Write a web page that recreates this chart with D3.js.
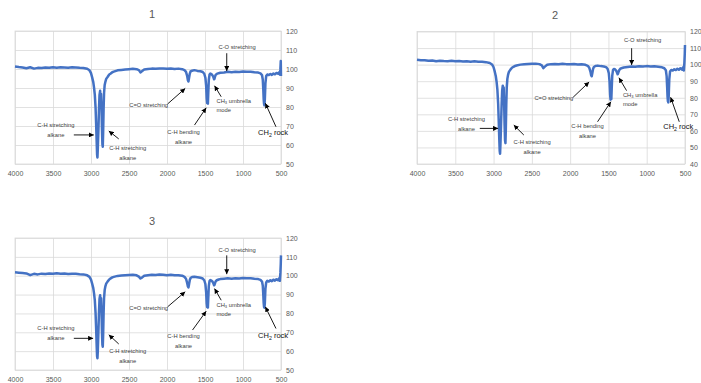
<!DOCTYPE html>
<html>
<head>
<meta charset="utf-8">
<script src="https://cdn.jsdelivr.net/npm/d3@7"></script>
<style>
  body { margin: 0; background: #ffffff; }
  svg { display: block; }
</style>
</head>
<body>
<svg id="chart" width="701" height="383"></svg>
<script>
// Wavenumber grid (cm-1), shared by the three spectra
const wavenumbers = [
  4000, 3950, 3900, 3850, 3800, 3750, 3700, 3650, 3600, 3550,
  3500, 3450, 3400, 3350, 3300, 3250, 3200, 3150, 3100, 3050,
  3020, 3000, 2985, 2970, 2960, 2950, 2940, 2932, 2925, 2920,
  2915, 2910, 2903, 2895, 2888, 2880, 2874, 2868, 2862, 2856,
  2850, 2845, 2840, 2834, 2828, 2820, 2810, 2800, 2780, 2760,
  2740, 2720, 2700, 2650, 2600, 2550, 2500, 2450, 2400, 2370,
  2350, 2330, 2300, 2250, 2200, 2150, 2100, 2050, 2000, 1950,
  1900, 1850, 1800, 1770, 1750, 1735, 1725, 1718, 1710, 1700,
  1690, 1670, 1640, 1600, 1560, 1530, 1510, 1495, 1485, 1478,
  1472, 1467, 1462, 1457, 1450, 1440, 1430, 1415, 1400, 1390,
  1380, 1375, 1370, 1360, 1345, 1320, 1300, 1250, 1200, 1150,
  1100, 1050, 1000, 950, 900, 850, 800, 770, 750, 740,
  733, 728, 723, 718, 713, 705, 695, 680, 660, 640,
  620, 600, 580, 560, 540, 525, 515, 508, 503, 500
];

// Transmittance (%) for sample 1
const sample1 = [
  101.3, 101.0, 100.8, 100.4, 100.9, 100.2, 100.6, 100.5, 100.8, 100.6,
  100.9, 100.7, 100.9, 100.8, 100.7, 100.9, 100.8, 100.6, 100.5, 100.1,
  99.3, 97.8, 95.6, 93.1, 90.2, 86.5, 79.8, 70.4, 61.2, 55.0,
  53.4, 58.6, 67.3, 78.9, 86.4, 88.5, 84.2, 86.9, 79.5, 68.7,
  60.4, 59.1, 66.8, 79.2, 87.5, 91.6, 93.4, 94.8, 95.9, 97.1,
  97.6, 98.3, 98.6, 99.3, 99.5, 99.7, 99.9, 100.1, 99.9, 99.4,
  98.2, 98.8, 99.7, 100.0, 100.2, 100.1, 100.3, 100.2, 100.1, 100.3,
  100.0, 100.2, 99.9, 99.4, 98.5, 96.4, 94.1, 93.4, 95.2, 97.6,
  98.7, 99.1, 99.4, 99.0, 98.8, 98.4, 97.5, 95.4, 91.2, 84.6,
  82.1, 86.8, 81.8, 87.3, 94.2, 97.1, 97.6, 97.3, 96.6, 95.8,
  94.6, 94.9, 95.7, 96.9, 97.4, 97.8, 98.0, 98.2, 98.5, 98.3,
  98.6, 98.4, 98.7, 98.5, 98.6, 98.3, 98.1, 97.7, 96.8, 94.5,
  89.2, 84.3, 81.6, 80.9, 83.7, 92.4, 96.3, 97.1, 96.8, 97.4,
  96.9, 97.6, 97.2, 97.9, 97.5, 98.3, 97.1, 99.8, 104.2, 96.3
];

// Transmittance (%) for sample 2
const sample2 = [
  102.9, 102.6, 102.7, 102.3, 102.5, 102.0, 102.4, 102.2, 102.1, 102.3,
  102.0, 102.2, 101.9, 102.1, 101.8, 102.0, 101.7, 101.8, 101.5, 101.0,
  100.1, 98.4, 95.9, 92.8, 89.4, 84.7, 76.2, 65.1, 54.3, 48.0,
  46.2, 52.1, 62.8, 75.4, 84.1, 87.3, 82.6, 86.2, 76.4, 63.5,
  54.2, 52.6, 60.9, 75.8, 86.1, 91.4, 94.0, 95.6, 97.0, 98.1,
  98.7, 99.2, 99.5, 100.0, 100.2, 100.4, 100.5, 100.6, 100.3, 99.6,
  97.9, 98.8, 99.9, 100.3, 100.4, 100.2, 100.5, 100.3, 100.2, 100.4,
  100.1, 100.2, 99.9, 99.3, 98.1, 95.8, 93.5, 93.0, 94.9, 97.5,
  98.6, 99.2, 99.4, 99.1, 98.9, 98.5, 97.4, 94.8, 89.5, 81.9,
  78.8, 84.2, 79.3, 85.6, 93.4, 96.8, 97.4, 97.2, 96.4, 95.4,
  94.2, 94.5, 95.3, 96.6, 97.5, 98.0, 98.3, 98.6, 98.9, 98.7,
  99.0, 98.8, 99.1, 98.9, 99.0, 98.7, 98.4, 97.8, 96.6, 93.1,
  86.4, 80.7, 77.8, 77.2, 80.6, 91.3, 95.9, 96.8, 96.4, 97.2,
  96.7, 97.5, 96.9, 97.8, 97.0, 98.4, 96.5, 101.2, 106.5, 111.8
];

// Transmittance (%) for sample 3
const sample3 = [
  101.8, 101.6, 101.4, 101.2, 100.3, 101.0, 100.7, 101.1, 100.9, 101.2,
  101.0, 101.3, 101.1, 101.2, 100.9, 101.1, 101.0, 100.8, 100.7, 100.2,
  99.4, 97.9, 95.8, 93.4, 90.6, 87.1, 80.3, 71.5, 62.4, 57.3,
  56.2, 60.5, 69.8, 80.6, 87.7, 89.7, 85.3, 88.1, 80.9, 70.6,
  63.4, 62.3, 68.9, 80.4, 88.3, 92.4, 94.5, 95.8, 97.0, 98.0,
  98.6, 99.1, 99.4, 99.9, 100.1, 100.3, 100.4, 100.5, 100.2, 99.5,
  98.5, 99.0, 100.0, 100.3, 100.5, 100.4, 100.6, 100.5, 100.3, 100.5,
  100.2, 100.3, 100.0, 99.4, 98.4, 96.2, 94.3, 93.8, 95.4, 97.7,
  98.8, 99.3, 99.5, 99.2, 98.9, 98.5, 97.6, 95.6, 91.3, 85.4,
  83.4, 87.2, 83.1, 88.0, 94.5, 97.2, 97.7, 97.4, 96.8, 96.0,
  94.9, 95.1, 95.8, 97.0, 97.6, 98.0, 98.2, 98.4, 98.6, 98.4,
  98.7, 98.5, 98.8, 98.6, 98.7, 98.4, 98.2, 97.8, 96.9, 94.8,
  89.9, 85.6, 83.5, 83.1, 85.2, 93.1, 96.4, 97.3, 96.9, 97.6,
  97.1, 97.9, 97.4, 98.1, 97.6, 98.6, 97.3, 101.5, 106.2, 110.8
];

const xTicks = [4000, 3500, 3000, 2500, 2000, 1500, 1000, 500];
const yTicksA = [50, 60, 70, 80, 90, 100, 110, 120];
const yTicksB = [40, 50, 60, 70, 80, 90, 100, 110, 120];
const panelTitles = ["1", "2", "3"];

// Band assignments: label position and arrow in data units (cm-1, %T)
const bandNotes1 = [
  { lines: ["C-H stretching", "alkane"], at: [3462, 70.5], align: "middle", arrow: [[3226, 65.3], [2963, 65.3]] },
  { lines: ["C-H stretching", "alkane"], at: [2517, 58.6], align: "middle", arrow: [[2635, 63.2], [2766, 67.4]] },
  { lines: ["C=O stretching"], at: [2241, 81.0], align: "middle", arrow: [[1992, 81.6], [1760, 89.8]] },
  { lines: ["C-H bending", "alkane"], at: [1782, 66.7], align: "middle", arrow: [[1638, 70.5], [1484, 79.6]] },
  { lines: ["C-O stretching"], at: [1077, 111.7], align: "middle", arrow: [[1214, 108.3], [1214, 98.9]] },
  { lines: [["CH", "3", " umbrella"], "mode"], at: [1349, 83.2], align: "start", arrow: [[1287, 85.4], [1375, 91.2]] },
  { lines: [["CH", "2", " rock"]], at: [802, 66.5], align: "start", big: true, arrow: [[566, 69.6], [706, 82.0]] }
];
const bandNotes2 = [
  { lines: ["C-H stretching", "alkane"], at: [3354, 67.2], align: "middle", arrow: [[3180, 61.5], [2941, 61.5]] },
  { lines: ["C-H stretching", "alkane"], at: [2497, 53.1], align: "middle", arrow: [[2605, 57.5], [2736, 63.5]] },
  { lines: ["C=O stretching"], at: [2213, 79.7], align: "middle", arrow: [[1961, 80.3], [1752, 89.5]] },
  { lines: ["C-H bending", "alkane"], at: [1773, 62.9], align: "middle", arrow: [[1642, 65.5], [1468, 77.6]] },
  { lines: ["C-O stretching"], at: [1054, 114.9], align: "middle", arrow: [[1197, 109.9], [1197, 99.8]] },
  { lines: [["CH", "3", " umbrella"], "mode"], at: [1311, 81.7], align: "start", arrow: [[1263, 84.3], [1363, 92.1]] },
  { lines: [["CH", "2", " rock"]], at: [784, 62.5], align: "start", big: true, arrow: [[575, 65.5], [688, 80.3]] }
];
const bandNotes3 = [
  { lines: ["C-H stretching", "alkane"], at: [3462, 72.4], align: "middle", arrow: [[3226, 66.8], [2972, 66.8]] },
  { lines: ["C-H stretching", "alkane"], at: [2517, 60.1], align: "middle", arrow: [[2635, 63.8], [2766, 68.7]] },
  { lines: ["C=O stretching"], at: [2241, 83.0], align: "middle", arrow: [[1992, 83.5], [1760, 91.5]] },
  { lines: ["C-H bending", "alkane"], at: [1782, 68.1], align: "middle", arrow: [[1664, 71.2], [1484, 81.2]] },
  { lines: ["C-O stretching"], at: [1077, 113.5], align: "middle", arrow: [[1214, 110.8], [1214, 100.8]] },
  { lines: [["CH", "3", " umbrella"], "mode"], at: [1349, 84.6], align: "start", arrow: [[1287, 87.0], [1375, 93.2]] },
  { lines: [["CH", "2", " rock"]], at: [802, 68.1], align: "start", big: true, arrow: [[566, 72.0], [706, 83.5]] }
];

// Plot-area placement of each small chart
const panels = [
  { title: panelTitles[0], values: sample1, yTicks: yTicksA, notes: bandNotes1, box: { left: 15, right: 281, top: 31, bottom: 164 } },
  { title: panelTitles[1], values: sample2, yTicks: yTicksB, notes: bandNotes2, box: { left: 417, right: 685, top: 31.5, bottom: 164 } },
  { title: panelTitles[2], values: sample3, yTicks: yTicksA, notes: bandNotes3, box: { left: 15, right: 281, top: 238, bottom: 370 } }
];

const svg = d3.select("#chart");
const FONT = "'Liberation Sans', Arial, sans-serif";
const GRID = "#d9d9d9";
const AXIS_TEXT = "#595959";
const LINE = "#4472c4";

svg.append("defs").append("marker")
  .attr("id", "arrowhead")
  .attr("viewBox", "0 0 6 6")
  .attr("refX", 6).attr("refY", 3)
  .attr("markerWidth", 5).attr("markerHeight", 5)
  .attr("markerUnits", "userSpaceOnUse")
  .attr("orient", "auto")
  .append("path").attr("d", "M0,0 L6,3 L0,6 Z").attr("fill", "#000");

panels.forEach(p => {
  const b = p.box;
  const yDomain = d3.extent(p.yTicks);
  const x = d3.scaleLinear().domain([4000, 500]).range([b.left, b.right]);
  const y = d3.scaleLinear().domain(yDomain).range([b.bottom, b.top]);
  const g = svg.append("g");

  // vertical gridlines via bottom axis
  const xAxis = g.append("g")
    .attr("transform", `translate(0,${b.bottom})`)
    .call(d3.axisBottom(x).tickValues(xTicks).tickSize(-(b.bottom - b.top)).tickPadding(7).tickFormat(d3.format("d")));
  xAxis.select(".domain").remove();
  xAxis.selectAll(".tick line").attr("stroke", GRID).attr("stroke-width", 0.8);
  xAxis.selectAll(".tick text").attr("fill", AXIS_TEXT).attr("font-family", FONT).attr("font-size", 7);

  // horizontal gridlines via right axis
  const yAxis = g.append("g")
    .attr("transform", `translate(${b.right},0)`)
    .call(d3.axisRight(y).tickValues(p.yTicks).tickSize(-(b.right - b.left)).tickPadding(5));
  yAxis.select(".domain").remove();
  yAxis.selectAll(".tick line").attr("stroke", GRID).attr("stroke-width", 0.8);
  yAxis.selectAll(".tick text").attr("fill", AXIS_TEXT).attr("font-family", FONT).attr("font-size", 7);

  g.append("rect")
    .attr("x", b.left).attr("y", b.top)
    .attr("width", b.right - b.left).attr("height", b.bottom - b.top)
    .attr("fill", "none").attr("stroke", GRID).attr("stroke-width", 0.8);

  // title
  g.append("text")
    .attr("x", (b.left + b.right) / 2 + 4).attr("y", b.top - 13)
    .attr("text-anchor", "middle")
    .attr("font-family", FONT).attr("font-size", 11).attr("fill", AXIS_TEXT)
    .text(p.title);

  // spectrum
  const line = d3.line().x((d, i) => x(wavenumbers[i])).y(d => y(d));
  g.append("path")
    .datum(p.values)
    .attr("d", line)
    .attr("fill", "none")
    .attr("stroke", LINE)
    .attr("stroke-width", 2.5)
    .attr("stroke-linejoin", "round");

  // band assignments
  p.notes.forEach(n => {
    g.append("line")
      .attr("x1", x(n.arrow[0][0])).attr("y1", y(n.arrow[0][1]))
      .attr("x2", x(n.arrow[1][0])).attr("y2", y(n.arrow[1][1]))
      .attr("stroke", "#000").attr("stroke-width", 0.9)
      .attr("marker-end", "url(#arrowhead)");

    const size = n.big ? 7.5 : 5.8;
    const t = g.append("text")
      .attr("x", x(n.at[0])).attr("y", y(n.at[1]))
      .attr("text-anchor", n.align)
      .attr("font-family", FONT)
      .attr("font-size", size)
      .attr("fill", n.big ? "#111" : "#404040");
    n.lines.forEach((ln, k) => {
      if (Array.isArray(ln)) {
        // chemical formula with subscript
        t.append("tspan").attr("x", x(n.at[0])).attr("dy", k === 0 ? "0.35em" : "1.75em").text(ln[0]);
        t.append("tspan").attr("font-size", size * 0.7).attr("dy", "0.25em").text(ln[1]);
        t.append("tspan").attr("dy", "-0.18em").text(ln[2]);
      } else {
        const dy = k === 0 ? "0.35em" : (Array.isArray(n.lines[0]) ? "1.6em" : "1.75em");
        t.append("tspan").attr("x", x(n.at[0])).attr("dy", dy).text(ln);
      }
    });
  });
});
</script>
</body>
</html>
